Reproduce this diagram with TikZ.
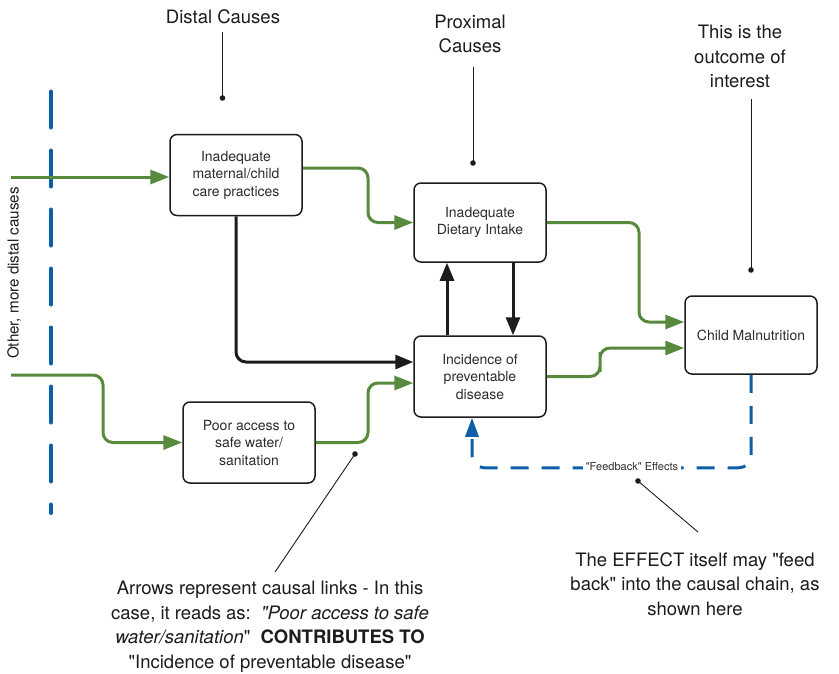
\documentclass[tikz,border=0pt]{standalone}
\usepackage{fontspec}
\setmainfont{TeX Gyre Heros}[Ligatures=TeXOff]
\usetikzlibrary{arrows.meta,calc}
\definecolor{cgreen}{RGB}{88,138,62}
\definecolor{cblue}{RGB}{12,94,168}
\definecolor{cdark}{RGB}{28,28,28}
\definecolor{ctext}{RGB}{45,45,45}
\tikzset{
  box/.style={draw=cdark, line width=1.5pt, rounded corners=7pt, fill=white,
    minimum width=132pt, minimum height=81pt, align=center, text=ctext,
    font=\fontsize{14}{17.5}\selectfont, inner sep=2pt},
  annot/.style={align=center, text=cdark, font=\fontsize{18.5}{24.5}\selectfont, inner sep=0pt},
  garrow/.style={draw=cgreen, line width=3pt, rounded corners=10pt,
    -{Triangle[length=19pt,width=14pt]}},
  karrow/.style={draw=cdark, line width=3pt, rounded corners=10pt,
    -{Triangle[length=18pt,width=14pt]}},
  fbline/.style={draw=cblue, line width=3pt, rounded corners=12pt,
    dash pattern=on 18pt off 13pt, -{Triangle[length=19pt,width=13pt]}},
  callout/.style={draw=cdark, line width=0.9pt},
  fblabel/.style={fill=white, inner sep=3pt, text=ctext, font=\fontsize{11}{13}\selectfont},
}
\begin{document}
\begin{tikzpicture}[x=1pt,y=-1pt]
\useasboundingbox (0,0) rectangle (839,673);
\fill[white] (0,0) rectangle (839,673);

% left divider
\draw[cblue, line width=4pt, line cap=round, dash pattern=on 36pt off 23pt] (51,91.5) -- (51,513);
\node[rotate=90, text=cdark, font=\fontsize{15.2}{18}\selectfont, inner sep=0pt] (other) at (14,273) {Other, more distal causes};

% boxes
\node[box] (b1) at (236,175) {Inadequate\\maternal/child\\care practices};
\node[box, minimum height=79pt] (b2) at (480,222.5) {Inadequate\\Dietary Intake};
\node[box] (b3) at (480,376.5) {Incidence of\\preventable\\disease};
\node[box, minimum height=78pt] (b4) at (751,335) {Child Malnutrition};
\node[box] (b5) at (249,442.5) {Poor access to\\safe water/\\sanitation};

% free ends
\coordinate (g1s) at (11,177);
\coordinate (g5s) at (11,375);

% green arrows
\draw[garrow] (g1s) -- (g1s -| b1.west);
\draw[garrow] ($(b1.east)+(0,-7)$) -| (368,195) |- (b2.west);
\draw[garrow] (b2.east) -| (639,280) |- ($(b4.west)+(0,-13)$);
\draw[garrow] (b3.east) -| (600,362) |- ($(b4.west)+(0,13)$);
\draw[garrow] (g5s) -| (103,410) |- (b5.west);
\draw[garrow] (b5.east) -| (368,410) |- ($(b3.west)+(0,6.5)$);

% black arrows
\draw[karrow] (b1.south) |- ($(b3.west)+(0,-14.5)$);
\draw[karrow] ($(b3.north)+(-33,0)$) -- ($(b2.south)+(-33,0)$);
\draw[karrow] ($(b2.south)+(33,0)$) -- ($(b3.north)+(33,0)$);

% feedback
\draw[fbline] (b4.south) |- ($(b3.south)+(-8,50)$) -- ($(b3.south)+(-8,0)$);
\node[fblabel] (fb) at (632,467) {"Feedback" Effects};

% annotations
\node[annot] (distal) at (223,16.3) {Distal Causes};
\coordinate (dd) at (222.5,98);
\draw[callout] (dd |- 0,32) -- (dd);
\fill[cdark] (dd) circle (2.8pt);

\node[annot] (prox) at (470,33.8) {Proximal\\Causes};
\coordinate (pd) at (473,163);
\draw[callout] (pd |- 0,67) -- (pd);
\fill[cdark] (pd) circle (2.8pt);

\node[annot] (outc) at (740,56.8) {This is the\\outcome of\\interest};
\coordinate (od) at (751,270);
\draw[callout] (od |- 0,99) -- (od);
\fill[cdark] (od) circle (2.8pt);

\node[annot] (arrtext) at (270,627) {Arrows represent causal links - In this\\
case, it reads as:\ \ \textit{"Poor access to safe}\\
\textit{water/sanitation}"\ \ \textbf{CONTRIBUTES TO}\\
"Incidence of preventable disease"};
\coordinate (ad) at (355,454);
\coordinate (ae) at (275,572);
\draw[callout] (ad) -- (ae);
\fill[cdark] (ad) circle (2.8pt);

\node[annot] (fbtext) at (695,584) {The EFFECT itself may "feed\\
back" into the causal chain, as\\
shown here};
\coordinate (fd) at (638,481);
\coordinate (fe) at (698,532);
\draw[callout] (fd) -- (fe);
\fill[cdark] (fd) circle (2.8pt);
\end{tikzpicture}
\end{document}
